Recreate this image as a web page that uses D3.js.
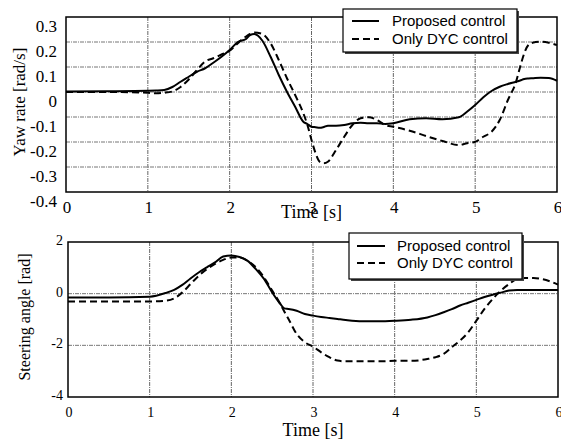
<!DOCTYPE html>
<html>
<head>
<meta charset="utf-8">
<script src="https://cdn.jsdelivr.net/npm/d3@7"></script>
<style>
  body { margin: 0; background: #fff; }
  svg { display: block; }
</style>
</head>
<body>
<svg id="chart" width="561" height="442"></svg>
<script>
// time samples (s)
const yawT = [0, 0.5, 1.0, 1.1, 1.2, 1.3, 1.4, 1.5, 1.6, 1.7, 1.8, 1.9, 2.0, 2.1, 2.2, 2.25, 2.3, 2.4, 2.5, 2.6, 2.7, 2.8, 2.9, 2.95, 3.0, 3.05, 3.1, 3.15, 3.2, 3.3, 3.4, 3.5, 3.6, 3.7, 3.8, 3.9, 4.0, 4.2, 4.4, 4.6, 4.8, 4.9, 5.0, 5.1, 5.2, 5.3, 5.4, 5.5, 5.55, 5.6, 5.65, 5.7, 5.8, 5.9, 6.0];
const yawProposed = [0.002, 0.003, 0.005, 0.006, 0.008, 0.02, 0.041, 0.061, 0.081, 0.095, 0.117, 0.141, 0.168, 0.2, 0.212, 0.228, 0.232, 0.205, 0.141, 0.068, 0.001, -0.059, -0.119, -0.128, -0.139, -0.141, -0.143, -0.14, -0.135, -0.135, -0.132, -0.125, -0.123, -0.125, -0.125, -0.128, -0.125, -0.109, -0.105, -0.109, -0.101, -0.079, -0.052, -0.021, 0.004, 0.021, 0.032, 0.041, 0.046, 0.052, 0.054, 0.055, 0.057, 0.056, 0.045];
const yawDYC = [0.0, 0.0, -0.003, -0.005, -0.003, 0.002, 0.02, 0.05, 0.088, 0.122, 0.135, 0.15, 0.165, 0.195, 0.222, 0.232, 0.238, 0.232, 0.195, 0.128, 0.055, -0.012, -0.085, -0.132, -0.192, -0.245, -0.279, -0.285, -0.279, -0.232, -0.179, -0.132, -0.105, -0.101, -0.112, -0.132, -0.139, -0.155, -0.176, -0.196, -0.212, -0.205, -0.199, -0.179, -0.159, -0.112, -0.032, 0.041, 0.101, 0.155, 0.188, 0.197, 0.201, 0.197, 0.188];

const steerT = [0, 0.5, 1.0, 1.2, 1.3, 1.4, 1.5, 1.6, 1.7, 1.8, 1.9, 2.0, 2.1, 2.2, 2.3, 2.4, 2.5, 2.6, 2.65, 2.7, 2.8, 2.9, 3.0, 3.1, 3.2, 3.3, 3.4, 3.6, 3.8, 4.0, 4.2, 4.4, 4.5, 4.6, 4.7, 4.8, 4.9, 5.0, 5.1, 5.2, 5.3, 5.4, 5.5, 5.6, 5.7, 5.8, 5.9, 6.0];
const steerProposed = [-0.15, -0.15, -0.12, 0.03, 0.15, 0.34, 0.59, 0.82, 1.02, 1.21, 1.44, 1.48, 1.42, 1.27, 0.95, 0.57, 0.05, -0.4, -0.57, -0.59, -0.66, -0.79, -0.85, -0.9, -0.94, -0.98, -1.02, -1.07, -1.07, -1.05, -1.01, -0.92, -0.83, -0.72, -0.6, -0.46, -0.35, -0.24, -0.13, -0.04, 0.04, 0.12, 0.14, 0.14, 0.14, 0.14, 0.14, 0.14];
const steerDYC = [-0.3, -0.3, -0.3, -0.27, -0.18, 0.05, 0.37, 0.69, 0.95, 1.15, 1.31, 1.4, 1.4, 1.27, 1.02, 0.63, 0.12, -0.4, -0.7, -0.98, -1.56, -1.88, -2.05, -2.27, -2.46, -2.59, -2.62, -2.62, -2.62, -2.6, -2.6, -2.53, -2.46, -2.33, -2.07, -1.82, -1.5, -1.05, -0.59, -0.21, 0.12, 0.37, 0.57, 0.61, 0.61, 0.57, 0.48, 0.35];

const xTicks = [0, 1, 2, 3, 4, 5, 6];
const yawTicks = [0.3, 0.2, 0.1, 0, -0.1, -0.2, -0.3, -0.4];
const steerTicks = [2, 0, -2, -4];
const seriesNames = ["Proposed control", "Only DYC control"];

const svg = d3.select("#chart");
const serif = "'Liberation Serif', 'Times New Roman', serif";
const sans = "'Liberation Sans', Arial, sans-serif";

function panel(cfg) {
  const x = d3.scaleLinear().domain([0, 6]).range([cfg.left, cfg.right]);
  const y = d3.scaleLinear().domain(cfg.domain).range([cfg.bottom, cfg.top]);
  const g = svg.append("g");

  // grid
  g.selectAll("line.vg").data(xTicks.slice(1, -1)).enter().append("line")
    .attr("x1", d => x(d)).attr("x2", d => x(d))
    .attr("y1", cfg.top).attr("y2", cfg.bottom)
    .attr("stroke", "#666").attr("stroke-dasharray", "4,1,1,1");
  g.selectAll("line.hg").data(cfg.yTicks.filter(v => v !== cfg.domain[0] && v !== cfg.domain[1])).enter().append("line")
    .attr("x1", cfg.left).attr("x2", cfg.right)
    .attr("y1", d => y(d)).attr("y2", d => y(d))
    .attr("stroke", "#777").attr("stroke-dasharray", "4,1,1,1");

  // curves
  const line = d3.line().x((d, i) => x(cfg.t[i])).y(d => y(d)).curve(d3.curveMonotoneX);
  g.append("path").datum(cfg.b).attr("d", line)
    .attr("fill", "none").attr("stroke", "#000").attr("stroke-width", 2)
    .attr("stroke-dasharray", "7,4");
  g.append("path").datum(cfg.a).attr("d", line)
    .attr("fill", "none").attr("stroke", "#000").attr("stroke-width", 2);

  // frame
  g.append("rect").attr("x", cfg.left).attr("y", cfg.top)
    .attr("width", cfg.right - cfg.left).attr("height", cfg.bottom - cfg.top)
    .attr("fill", "none").attr("stroke", "#000").attr("stroke-width", 1.5);

  // tick labels
  g.selectAll("text.xt").data(xTicks).enter().append("text")
    .attr("x", d => x(d) + 1).attr("y", cfg.xLabelY)
    .attr("text-anchor", "middle").attr("font-family", serif)
    .attr("font-size", cfg.tickSize).text(d => d);
  g.selectAll("text.yt").data(cfg.yTicks).enter().append("text")
    .attr("x", cfg.yLabelX).attr("y", d => y(d) + cfg.yLabelDy)
    .attr("text-anchor", "end").attr("font-family", serif)
    .attr("font-size", cfg.tickSize).text(d => d);

  // titles
  g.append("text").attr("x", x(3)).attr("y", cfg.xTitleY)
    .attr("text-anchor", "middle").attr("font-family", serif)
    .attr("font-size", 18).text("Time [s]");
  g.append("text")
    .attr("transform", `translate(${cfg.yTitleX},${cfg.yTitleY}) rotate(-90)`)
    .attr("text-anchor", "middle").attr("font-family", serif)
    .attr("font-size", cfg.yTitleSize).text(cfg.yTitle);

  // legend
  const L = cfg.legend;
  g.append("rect").attr("x", L.x + 2).attr("y", L.y + 2).attr("width", L.w).attr("height", L.h)
    .attr("fill", "#444");
  g.append("rect").attr("x", L.x).attr("y", L.y).attr("width", L.w).attr("height", L.h)
    .attr("fill", "#fff").attr("stroke", "#000").attr("stroke-width", 1.2);
  seriesNames.forEach((name, i) => {
    const ly = L.y + L.row0 + i * L.rowGap;
    g.append("line").attr("x1", L.x + L.lx0).attr("x2", L.x + L.lx1)
      .attr("y1", ly).attr("y2", ly)
      .attr("stroke", "#000").attr("stroke-width", 2)
      .attr("stroke-dasharray", i === 1 ? "7,4" : null);
    g.append("text").attr("x", L.x + L.tx).attr("y", ly + 5)
      .attr("font-family", sans).attr("font-size", 15).text(name);
  });
}

panel({
  left: 66, right: 557, top: 17, bottom: 192, domain: [-0.4, 0.3],
  t: yawT, a: yawProposed, b: yawDYC, yTicks: yawTicks,
  tickSize: 17, xLabelY: 213, yLabelX: 57, yLabelDy: 15, xTitleY: 218,
  yTitle: "Yaw rate [rad/s]", yTitleX: 25, yTitleY: 102, yTitleSize: 17,
  legend: { x: 343, y: 9, w: 174, h: 43, row0: 12, rowGap: 18, lx0: 9, lx1: 36, tx: 49 }
});

panel({
  left: 68, right: 558, top: 242, bottom: 397, domain: [-4, 2],
  t: steerT, a: steerProposed, b: steerDYC, yTicks: steerTicks,
  tickSize: 14, xLabelY: 417, yLabelX: 63, yLabelDy: 3, xTitleY: 436,
  yTitle: "Steering angle [rad]", yTitleX: 30, yTitleY: 317, yTitleSize: 16,
  legend: { x: 349, y: 233, w: 173, h: 46, row0: 13, rowGap: 17, lx0: 8, lx1: 36, tx: 48 }
});
</script>
</body>
</html>
